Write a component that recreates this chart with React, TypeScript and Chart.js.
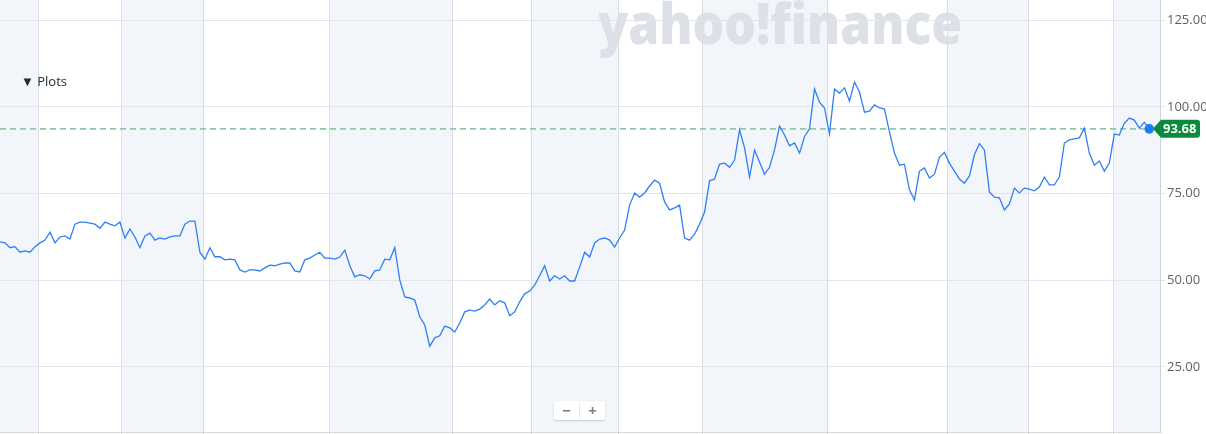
import React, { useEffect, useRef } from "react";
import { Chart, registerables } from "chart.js";

Chart.register(...registerables);

// Daily close prices (one value per trading session)
const closePrices = [
  61.1, 60.8, 59.4, 59.7, 58.1, 58.5, 58.1, 59.7, 60.8, 61.6,
  63.9, 60.8, 62.5, 62.8, 61.9, 66.2, 66.8, 66.8, 66.5, 66.2,
  65.0, 66.8, 66.2, 65.7, 66.8, 62.2, 64.8, 62.5, 59.4, 62.8,
  63.6, 61.6, 62.2, 61.9, 62.5, 62.8, 62.8, 66.2, 67.1, 67.1,
  58.1, 56.1, 59.4, 56.8, 56.8, 55.9, 56.1, 55.9, 53.0,
  52.4, 53.0, 53.0, 52.7, 53.6, 54.4, 54.2, 54.7, 55.0, 55.0,
  52.7, 52.4, 55.9, 56.4, 57.3, 58.1, 56.4, 56.4, 56.1, 56.7,
  58.7, 54.2, 51.0, 51.6, 51.3, 50.4, 52.7, 53.0, 56.1, 55.9,
  59.4, 50.1, 45.2, 44.9, 44.3, 39.5, 37.1, 31.0, 33.4, 34.0,
  36.8, 36.3, 35.1, 37.7, 40.9, 41.4,
  41.1, 41.7, 42.9, 44.6, 42.9, 44.1, 43.5, 39.8, 40.9, 43.8,
  46.1, 46.9, 48.6, 51.3, 54.2, 49.8, 51.3, 50.4, 51.3, 49.8,
  49.8, 53.8, 58.1, 56.7, 60.8, 61.9, 62.2, 61.6, 59.6, 62.2,
  64.5, 71.7, 75.2, 74.0, 75.2, 77.2, 78.9, 78.0, 72.6, 70.3,
  70.9, 71.7, 62.2, 61.6, 63.3, 66.2, 69.7, 78.7,
  79.2, 83.5, 83.8, 82.6, 84.7, 93.4, 88.2, 79.8, 87.6, 84.1,
  80.6, 82.6, 87.6, 94.5, 91.9, 88.8, 89.6, 86.7, 91.4, 93.7,
  105.2, 101.4, 99.7, 92.2, 105.2, 104.0, 105.5, 101.7, 107.2, 104.3,
  98.5, 98.8, 100.6, 99.7, 99.4, 92.8, 86.7, 83.2, 83.5, 76.1,
  73.2, 81.5, 82.4, 79.5, 80.6, 85.5, 86.9, 83.8,
  81.5, 79.2, 78.0, 80.1, 86.2, 89.4, 87.6, 75.5, 74.0, 73.8,
  70.3, 72.0, 76.6, 75.2, 76.6, 76.3, 75.8, 76.9, 79.8, 77.5,
  77.5, 79.8, 89.6, 90.5, 90.8, 91.1, 93.9, 86.7, 83.2, 84.4,
  81.5, 83.8, 92.2, 91.9, 95.3, 96.8, 96.2, 93.9, 95.6, 93.68,
];

// Session numbers where the vertical period separators fall
const periodBreaks = [7.66, 24.26, 40.66, 65.86, 90.46, 106.46, 123.86, 140.5, 165.5, 189.66, 205.86, 222.86];
const sessionRange = [0, 232.14];
const priceTicks = [25, 50, 75, 100, 125];
const priceRange = [6.25, 130.85];
const lastPrice = 93.68;
const lastPriceLabel = "93.68";
const watermarkText = "yahoo!finance";
const plotsLabel = "▼ Plots";

const backdropPlugin = {
  id: "backdrop",
  beforeDraw(chart: any) {
    const { ctx, chartArea: a, scales } = chart;
    const x = scales.x;
    ctx.save();
    ctx.fillStyle = "#ffffff";
    ctx.fillRect(0, 0, chart.width, chart.height);
    const edges = [x.min, ...periodBreaks, x.max];
    ctx.fillStyle = "#f2f5f9";
    for (let i = 0; i < edges.length - 1; i += 2) {
      const l = x.getPixelForValue(edges[i]);
      const r = x.getPixelForValue(edges[i + 1]);
      ctx.fillRect(l, a.top, r - l, a.bottom - a.top);
    }
    // watermark
    ctx.font = '800 56px "Open Sans"';
    ctx.fillStyle = "#dde1e7";
    ctx.textBaseline = "alphabetic";
    const w = ctx.measureText(watermarkText).width;
    const targetW = 364;
    ctx.translate(598, 44);
    ctx.scale(targetW / w, 1);
    ctx.fillText(watermarkText, 0, 0);
    ctx.restore();
  },
  beforeDatasetsDraw(chart: any) {
    const { ctx, chartArea: a, scales } = chart;
    const y = scales.y.getPixelForValue(lastPrice);
    ctx.save();
    ctx.beginPath();
    ctx.setLineDash([6, 4]);
    ctx.strokeStyle = "#8fcba6";
    ctx.lineWidth = 1.6;
    ctx.moveTo(a.left, y);
    ctx.lineTo(a.right, y);
    ctx.stroke();
    ctx.restore();
  },
  afterDraw(chart: any) {
    const { ctx, chartArea: a, scales } = chart;
    const y = scales.y.getPixelForValue(lastPrice);
    const tip = a.right - 7;
    const bl = a.right + 1;
    const br = 1200;
    const h = 9;
    const r = 3;
    ctx.save();
    ctx.beginPath();
    ctx.moveTo(tip, y);
    ctx.lineTo(bl, y - h);
    ctx.lineTo(br - r, y - h);
    ctx.quadraticCurveTo(br, y - h, br, y - h + r);
    ctx.lineTo(br, y + h - r);
    ctx.quadraticCurveTo(br, y + h, br - r, y + h);
    ctx.lineTo(bl, y + h);
    ctx.closePath();
    ctx.fillStyle = "#0b8a3d";
    ctx.fill();
    ctx.fillStyle = "#ffffff";
    ctx.font = 'bold 13px "Open Sans"';
    ctx.textBaseline = "middle";
    ctx.textAlign = "left";
    ctx.fillText(lastPriceLabel, bl + 2, y + 0.5);
    // last point dot
    ctx.beginPath();
    const xs = scales.x.getPixelForValue(closePrices.length - 1);
    ctx.arc(xs, y, 4.8, 0, Math.PI * 2);
    ctx.fillStyle = "#1a7cf5";
    ctx.fill();
    ctx.restore();
  },
};

export default function App() {
  const canvasRef = useRef<HTMLCanvasElement | null>(null);

  useEffect(() => {
    if (!canvasRef.current) return;
    const points = closePrices.map((v, i) => ({ x: i, y: v }));
    const chart = new Chart(canvasRef.current, {
      type: "line",
      data: {
        datasets: [
          {
            data: points,
            borderColor: "#2f7ff7",
            borderWidth: 1.3,
            pointRadius: 0,
            tension: 0,
            fill: false,
          },
        ],
      },
      options: {
        responsive: false,
        animation: false,
        layout: { padding: 0 },
        plugins: { legend: { display: false }, tooltip: { enabled: false } },
        scales: {
          x: {
            type: "linear",
            min: sessionRange[0],
            max: sessionRange[1],
            afterBuildTicks: (s: any) => {
              s.ticks = periodBreaks.map((v) => ({ value: v }));
            },
            afterFit: (s: any) => {
              s.height = 2;
              s.paddingLeft = 0;
              s.paddingRight = 0;
            },
            ticks: { display: false },
            grid: { color: "#d9dce0", lineWidth: 1, drawTicks: true, tickLength: 4 },
            border: { display: true, color: "#d3d6da" },
          },
          y: {
            position: "right",
            min: priceRange[0],
            max: priceRange[1],
            afterBuildTicks: (s: any) => {
              s.ticks = priceTicks.map((v) => ({ value: v }));
            },
            afterFit: (s: any) => {
              s.width = 46;
              s.paddingTop = 0;
              s.paddingBottom = 0;
            },
            ticks: {
              callback: (v: any) => Number(v).toFixed(2),
              color: "#5b636a",
              font: { family: '"Open Sans"', size: 13 },
              padding: 2,
            },
            grid: { color: "#e3e5e8", lineWidth: 1, drawTicks: true, tickLength: 5 },
            border: { display: true, color: "#cfd3d8" },
          },
        },
      },
      plugins: [backdropPlugin],
    });
    return () => chart.destroy();
  }, []);

  return (
    <div
      style={{
        position: "fixed",
        left: 0,
        top: 0,
        width: 1206,
        height: 434,
        overflow: "hidden",
        background: "#fff",
      }}
    >
      <canvas ref={canvasRef} width={1206} height={434} style={{ position: "absolute", left: 0, top: 0 }} />
      <div
        style={{
          position: "absolute",
          left: 21,
          top: 72,
          font: '13px "Open Sans", sans-serif',
          lineHeight: "18px",
          color: "#232a31",
          whiteSpace: "nowrap",
        }}
      >
        {plotsLabel}
      </div>
      <div
        style={{
          position: "absolute",
          left: 554,
          top: 401,
          width: 51,
          height: 19,
          background: "#fff",
          boxShadow: "0 1px 2px rgba(0,0,0,0.18)",
          borderRadius: 2,
          display: "flex",
          alignItems: "center",
          font: 'bold 15px "Open Sans", sans-serif',
          color: "#7b8087",
        }}
      >
        <span style={{ width: 25, textAlign: "center", lineHeight: "19px" }}>−</span>
        <span style={{ width: 1, height: 15, background: "#e4e6e9" }} />
        <span style={{ width: 25, textAlign: "center", lineHeight: "19px" }}>+</span>
      </div>
    </div>
  );
}
